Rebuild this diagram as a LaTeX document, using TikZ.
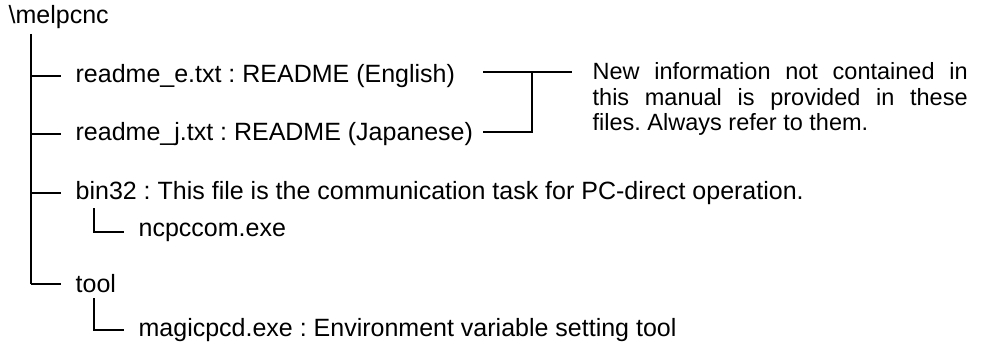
\documentclass[tikz,border=0pt]{standalone}
\usepackage{fontspec}
\setmainfont{Liberation Sans}
\frenchspacing

\begin{document}
\begin{tikzpicture}
  [x=1pt,y=-1pt,line width=1.3pt,
   every node/.style={anchor=west,inner sep=0pt,font=\fontsize{25}{27}\selectfont}]
  \useasboundingbox (0,0) rectangle (999,353);
  \node (root) at (8,17) {\textbackslash melpcnc};
  \coordinate (top) at (31,34);
  \node (rme) at (75,76) {readme\_e.txt : README (English)};
  \node (rmj) at (75,134) {readme\_j.txt : README (Japanese)};
  \node (bin) at (75,193) {bin32 : This file is the communication task for PC-direct operation.};
  \node (ncp) at (138,232) {ncpccom.exe};
  \node (tool) at (75,284) {tool};
  \node (magic) at (138,330) {magicpcd.exe : Environment variable setting tool};
  \node[anchor=north west,text width=375pt,align=justify,font=\fontsize{23.5}{25.5}\selectfont] (note) at (592,62)
    {New information not contained in\linebreak this manual is provided in these\linebreak files. Always refer to them.};

  \coordinate (binc) at (94,208);
  \coordinate (toolc) at (94,298);
  \coordinate (ee) at (483,72);
  \coordinate (je) at (483,132);
  \coordinate (jn) at (532,72);

  \draw (top) -- (top |- tool);
  \foreach \n in {rme,rmj,bin,tool}
    \draw (top |- \n) -- ([xshift=-14pt]\n.west);
  \draw (binc) |- ([xshift=-14pt]ncp.west);
  \draw (toolc) |- ([xshift=-14pt]magic.west);
  \draw (ee) -- ([xshift=-20pt]ee -| note.west);
  \draw (je) -| (jn);

\end{tikzpicture}
\end{document}
